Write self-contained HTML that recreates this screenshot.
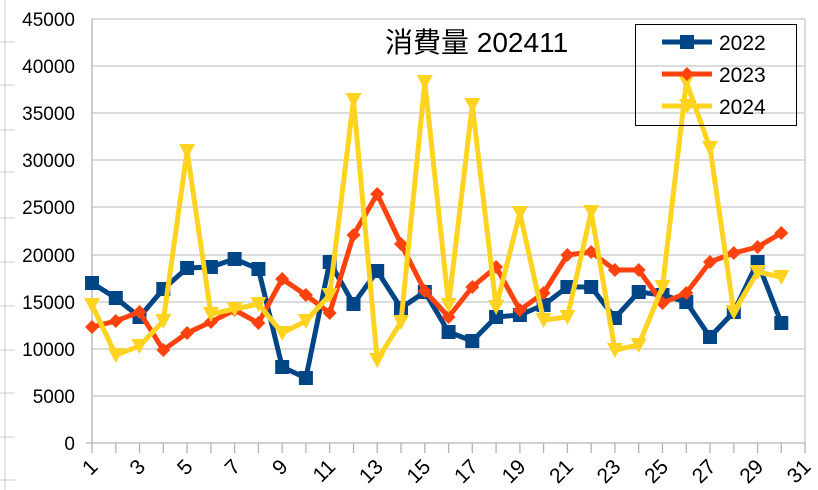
<!DOCTYPE html>
<html><head><meta charset="utf-8"><style>
html,body{margin:0;padding:0;background:#fff;}
svg{display:block;font-family:"Liberation Sans","Noto Sans CJK JP",sans-serif;}
</style></head><body>
<svg width="818" height="490" viewBox="0 0 818 490" xmlns="http://www.w3.org/2000/svg">
<defs>
<rect id="sq" x="-7" y="-7" width="14" height="14" fill="#004586"/>
<polygon id="dm" points="0,-7 7,0 0,7 -7,0" fill="#ff420e"/>
<polygon id="tr" points="-8,-7 8,-7 0,8" fill="#ffd320"/>
</defs>
<g stroke="#ccc" stroke-width="1">
<line x1="0" y1="42" x2="15" y2="42"/><line x1="0" y1="85" x2="15" y2="85"/><line x1="0" y1="130" x2="15" y2="130"/><line x1="0" y1="172" x2="15" y2="172"/><line x1="0" y1="218" x2="15" y2="218"/><line x1="0" y1="262" x2="15" y2="262"/><line x1="0" y1="306" x2="15" y2="306"/><line x1="0" y1="350" x2="15" y2="350"/><line x1="0" y1="393" x2="15" y2="393"/><line x1="0" y1="437" x2="15" y2="437"/><line x1="0" y1="480" x2="15" y2="480"/>
<line x1="5" y1="0" x2="5" y2="490"/>
</g>
<g stroke="#c8c8c8" stroke-width="1.3">
<line x1="92" y1="19" x2="805" y2="19"/><line x1="92" y1="66" x2="805" y2="66"/><line x1="92" y1="113" x2="805" y2="113"/><line x1="92" y1="160" x2="805" y2="160"/><line x1="92" y1="207" x2="805" y2="207"/><line x1="92" y1="255" x2="805" y2="255"/><line x1="92" y1="302" x2="805" y2="302"/><line x1="92" y1="349" x2="805" y2="349"/><line x1="92" y1="396" x2="805" y2="396"/>
<line x1="805" y1="19" x2="805" y2="443"/>
</g>
<g stroke="#b3b3b3" stroke-width="1.3">
<line x1="92" y1="19" x2="92" y2="443"/><line x1="86" y1="443" x2="805" y2="443"/>
<path d="M92 443v10M115.8 443v10M139.5 443v10M163.3 443v10M187.1 443v10M210.9 443v10M234.6 443v10M258.4 443v10M282.2 443v10M305.9 443v10M329.7 443v10M353.5 443v10M377.2 443v10M401 443v10M424.8 443v10M448.6 443v10M472.3 443v10M496.1 443v10M519.9 443v10M543.6 443v10M567.4 443v10M591.2 443v10M614.9 443v10M638.7 443v10M662.5 443v10M686.3 443v10M710 443v10M733.8 443v10M757.6 443v10M781.3 443v10M805 443v10"/>
</g>
<g font-size="19" text-anchor="end" fill="#000">
<text x="75" y="26">45000</text><text x="75" y="73">40000</text><text x="75" y="120">35000</text><text x="75" y="167">30000</text><text x="75" y="214">25000</text><text x="75" y="262">20000</text><text x="75" y="309">15000</text><text x="75" y="356">10000</text><text x="75" y="403">5000</text><text x="75" y="450">0</text>
</g>
<g font-size="21" text-anchor="end" fill="#000">
<text transform="translate(99,468) rotate(-45)">1</text>
<text transform="translate(146.5,468) rotate(-45)">3</text>
<text transform="translate(194,468) rotate(-45)">5</text>
<text transform="translate(241.6,468) rotate(-45)">7</text>
<text transform="translate(289,468) rotate(-45)">9</text>
<text transform="translate(336.7,468) rotate(-45)">11</text>
<text transform="translate(384.2,468) rotate(-45)">13</text>
<text transform="translate(431.8,468) rotate(-45)">15</text>
<text transform="translate(479.3,468) rotate(-45)">17</text>
<text transform="translate(526.9,468) rotate(-45)">19</text>
<text transform="translate(574.4,468) rotate(-45)">21</text>
<text transform="translate(621.9,468) rotate(-45)">23</text>
<text transform="translate(669.5,468) rotate(-45)">25</text>
<text transform="translate(717,468) rotate(-45)">27</text>
<text transform="translate(764.6,468) rotate(-45)">29</text>
<text transform="translate(812,468) rotate(-45)">31</text>
</g>
<text x="385" y="52" font-size="28" fill="#000">消費量 202411</text>
<polyline fill="none" stroke="#004586" stroke-width="5" stroke-linejoin="round" points="92,283 115.8,298 139.5,317 163.3,289 187.1,268 210.9,267 234.6,259 258.4,269 282.2,367 305.9,378 329.7,262 353.5,304 377.2,271 401,308 424.8,292 448.6,332 472.3,341 496.1,317 519.9,315 543.6,305 567.4,287 591.2,287 614.9,318 638.7,292 662.5,295 686.3,302 710,337 733.8,312 757.6,262 781.3,323"/>
<g>
<use href="#sq" x="92" y="283"/><use href="#sq" x="115.8" y="298"/><use href="#sq" x="139.5" y="317"/><use href="#sq" x="163.3" y="289"/><use href="#sq" x="187.1" y="268"/><use href="#sq" x="210.9" y="267"/><use href="#sq" x="234.6" y="259"/><use href="#sq" x="258.4" y="269"/><use href="#sq" x="282.2" y="367"/><use href="#sq" x="305.9" y="378"/><use href="#sq" x="329.7" y="262"/><use href="#sq" x="353.5" y="304"/><use href="#sq" x="377.2" y="271"/><use href="#sq" x="401" y="308"/><use href="#sq" x="424.8" y="292"/><use href="#sq" x="448.6" y="332"/><use href="#sq" x="472.3" y="341"/><use href="#sq" x="496.1" y="317"/><use href="#sq" x="519.9" y="315"/><use href="#sq" x="543.6" y="305"/><use href="#sq" x="567.4" y="287"/><use href="#sq" x="591.2" y="287"/><use href="#sq" x="614.9" y="318"/><use href="#sq" x="638.7" y="292"/><use href="#sq" x="662.5" y="295"/><use href="#sq" x="686.3" y="302"/><use href="#sq" x="710" y="337"/><use href="#sq" x="733.8" y="312"/><use href="#sq" x="757.6" y="262"/><use href="#sq" x="781.3" y="323"/>
</g>
<polyline fill="none" stroke="#ff420e" stroke-width="5" stroke-linejoin="round" points="92,327 115.8,321 139.5,312 163.3,350 187.1,333 210.9,322 234.6,310 258.4,323 282.2,279 305.9,295 329.7,313 353.5,235 377.2,194 401,244 424.8,291 448.6,317 472.3,287 496.1,267 519.9,310 543.6,293 567.4,255 591.2,252 614.9,270 638.7,270 662.5,303 686.3,293 710,262 733.8,253 757.6,247 781.3,233"/>
<g>
<use href="#dm" x="92" y="327"/><use href="#dm" x="115.8" y="321"/><use href="#dm" x="139.5" y="312"/><use href="#dm" x="163.3" y="350"/><use href="#dm" x="187.1" y="333"/><use href="#dm" x="210.9" y="322"/><use href="#dm" x="234.6" y="310"/><use href="#dm" x="258.4" y="323"/><use href="#dm" x="282.2" y="279"/><use href="#dm" x="305.9" y="295"/><use href="#dm" x="329.7" y="313"/><use href="#dm" x="353.5" y="235"/><use href="#dm" x="377.2" y="194"/><use href="#dm" x="401" y="244"/><use href="#dm" x="424.8" y="291"/><use href="#dm" x="448.6" y="317"/><use href="#dm" x="472.3" y="287"/><use href="#dm" x="496.1" y="267"/><use href="#dm" x="519.9" y="310"/><use href="#dm" x="543.6" y="293"/><use href="#dm" x="567.4" y="255"/><use href="#dm" x="591.2" y="252"/><use href="#dm" x="614.9" y="270"/><use href="#dm" x="638.7" y="270"/><use href="#dm" x="662.5" y="303"/><use href="#dm" x="686.3" y="293"/><use href="#dm" x="710" y="262"/><use href="#dm" x="733.8" y="253"/><use href="#dm" x="757.6" y="247"/><use href="#dm" x="781.3" y="233"/>
</g>
<polyline fill="none" stroke="#ffd320" stroke-width="5" stroke-linejoin="round" points="92,305 115.8,355 139.5,346 163.3,321 187.1,151 210.9,314 234.6,309 258.4,304 282.2,333 305.9,321 329.7,295 353.5,100 377.2,360 401,322 424.8,82 448.6,305 472.3,105 496.1,307 519.9,213 543.6,320 567.4,317 591.2,212 614.9,350 638.7,345 662.5,287 686.3,82 710,148 733.8,312 757.6,272 781.3,277"/>
<g>
<use href="#tr" x="92" y="305"/><use href="#tr" x="115.8" y="355"/><use href="#tr" x="139.5" y="346"/><use href="#tr" x="163.3" y="321"/><use href="#tr" x="187.1" y="151"/><use href="#tr" x="210.9" y="314"/><use href="#tr" x="234.6" y="309"/><use href="#tr" x="258.4" y="304"/><use href="#tr" x="282.2" y="333"/><use href="#tr" x="305.9" y="321"/><use href="#tr" x="329.7" y="295"/><use href="#tr" x="353.5" y="100"/><use href="#tr" x="377.2" y="360"/><use href="#tr" x="401" y="322"/><use href="#tr" x="424.8" y="82"/><use href="#tr" x="448.6" y="305"/><use href="#tr" x="472.3" y="105"/><use href="#tr" x="496.1" y="307"/><use href="#tr" x="519.9" y="213"/><use href="#tr" x="543.6" y="320"/><use href="#tr" x="567.4" y="317"/><use href="#tr" x="591.2" y="212"/><use href="#tr" x="614.9" y="350"/><use href="#tr" x="638.7" y="345"/><use href="#tr" x="662.5" y="287"/><use href="#tr" x="686.3" y="82"/><use href="#tr" x="710" y="148"/><use href="#tr" x="733.8" y="312"/><use href="#tr" x="757.6" y="272"/><use href="#tr" x="781.3" y="277"/>
</g>
<rect x="635.5" y="24.5" width="161" height="101" fill="none" stroke="#000" stroke-width="1"/>
<line x1="662" y1="42" x2="712" y2="42" stroke="#004586" stroke-width="5"/><use href="#sq" x="687" y="42"/>
<line x1="662" y1="74" x2="712" y2="74" stroke="#ff420e" stroke-width="5"/><use href="#dm" x="687" y="74"/>
<line x1="662" y1="106" x2="712" y2="106" stroke="#ffd320" stroke-width="5"/><use href="#tr" x="687" y="106"/>
<g font-size="21" fill="#000">
<text x="719" y="50">2022</text><text x="719" y="82">2023</text><text x="719" y="114">2024</text>
</g>
</svg>
</body></html>
